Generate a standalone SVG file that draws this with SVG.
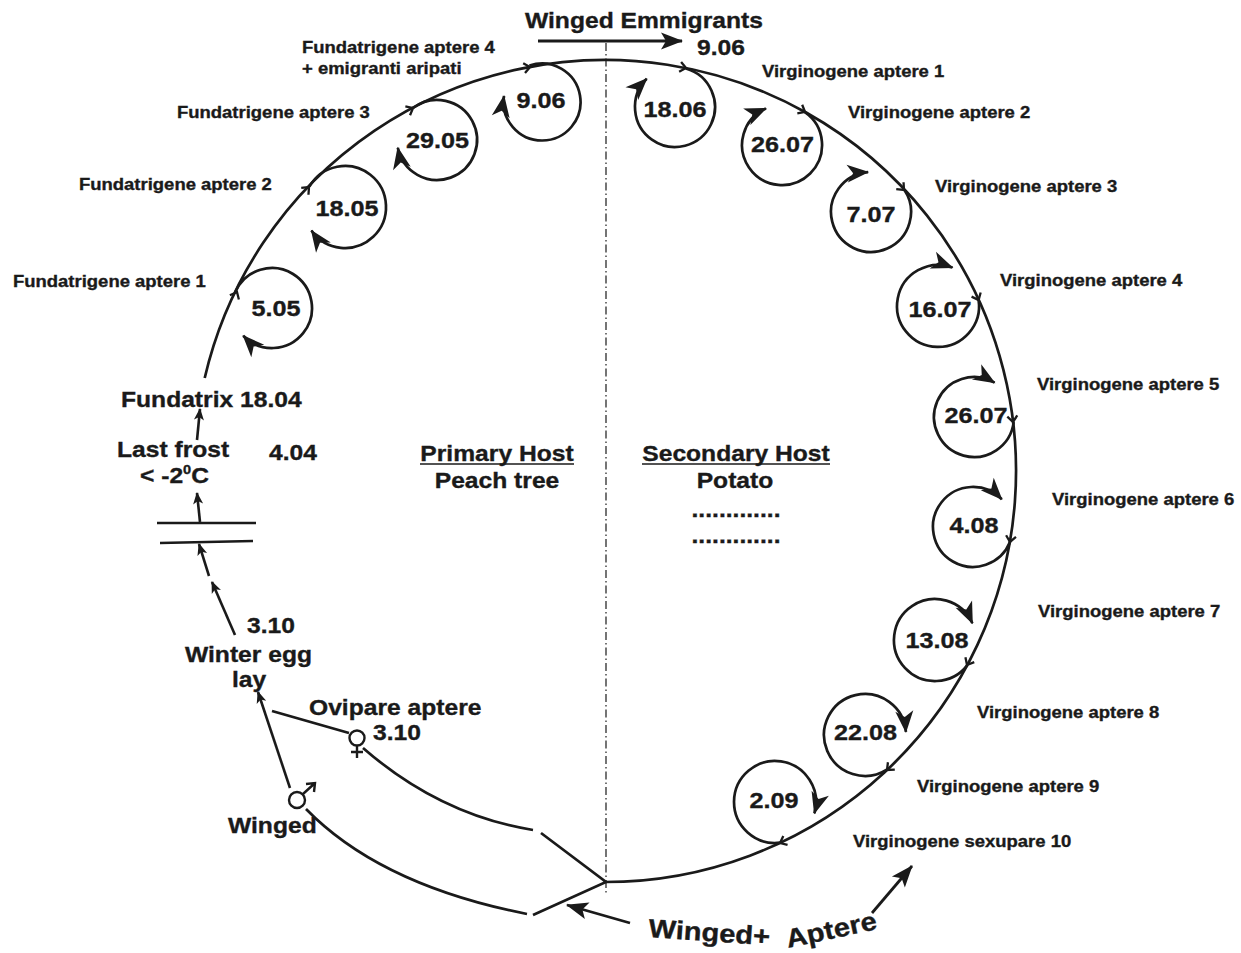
<svg xmlns="http://www.w3.org/2000/svg" xmlns:xlink="http://www.w3.org/1999/xlink" width="1241" height="953" viewBox="0 0 1241 953">
<style>
text{font-family:"Liberation Sans",Arial,sans-serif;font-weight:bold;fill:#1a1a1a;stroke:#1a1a1a;stroke-width:0.35}
.s{font-size:16.5px}
.b{font-size:22px}
.n{font-size:22.5px;text-anchor:middle}
.w{font-size:26px}
.m{text-anchor:middle}
.ln{fill:none;stroke:#1a1a1a;stroke-width:2.7}
.lp{fill:none;stroke:#1a1a1a;stroke-width:2.7;marker-end:url(#ah)}
.ch{fill:none;stroke:#1a1a1a;stroke-width:2.6;marker-end:url(#as)}
.bg{fill:none;stroke:#1a1a1a;stroke-width:2.8;marker-end:url(#ab)}
.tk{fill:none;stroke:#1a1a1a;stroke-width:2.3}
.ul{stroke:#1a1a1a;stroke-width:1.6}
</style>
<defs>
<marker id="ah" viewBox="-24 -11 26 22" refX="0" refY="0" markerWidth="26" markerHeight="22" markerUnits="userSpaceOnUse" orient="auto"><path d="M1,0 L-21,-9 L-15,0 L-21,9 Z" fill="#1a1a1a"/></marker>
<marker id="ab" viewBox="-24 -10 26 20" refX="0" refY="0" markerWidth="26" markerHeight="20" markerUnits="userSpaceOnUse" orient="auto"><path d="M1,0 L-21,-8.5 L-16,0 L-21,8.5 Z" fill="#1a1a1a"/></marker>
<marker id="as" viewBox="-13 -7 15 14" refX="0" refY="0" markerWidth="15" markerHeight="14" markerUnits="userSpaceOnUse" orient="auto"><path d="M1,0 L-11,-5 L-8,0 L-11,5 Z" fill="#1a1a1a"/></marker>
<path id="tk" d="M-6,-5 L0,0 L-6,5" class="tk"/>
</defs>
<rect width="1241" height="953" fill="#ffffff"/>

<g id="connectors">
<line x1="606" y1="43" x2="606" y2="893" stroke="#1a1a1a" stroke-width="1.2" stroke-dasharray="8 3 1.5 3"/>
<path class="ln" d="M204.7,378 A411,411 0 1 1 605,882"/>
<use xlink:href="#tk" transform="translate(237 292) rotate(-64.1)"/>
<use xlink:href="#tk" transform="translate(309 187) rotate(-46.2)"/>
<use xlink:href="#tk" transform="translate(413 108) rotate(-27.9)"/>
<use xlink:href="#tk" transform="translate(530 67) rotate(-10.5)"/>
<use xlink:href="#tk" transform="translate(686 68) rotate(11.4)"/>
<use xlink:href="#tk" transform="translate(805 112) rotate(29.1)"/>
<use xlink:href="#tk" transform="translate(904 190) rotate(46.8)"/>
<use xlink:href="#tk" transform="translate(978.6 300) rotate(65.4)"/>
<use xlink:href="#tk" transform="translate(1013 422) rotate(83.2)"/>
<use xlink:href="#tk" transform="translate(1010 542) rotate(99.9)"/>
<use xlink:href="#tk" transform="translate(967 665) rotate(118.2)"/>
<use xlink:href="#tk" transform="translate(887 770) rotate(136.7)"/>
<use xlink:href="#tk" transform="translate(780 843) rotate(154.8)"/>
<path class="bg" d="M538,41 L682,41"/>
<path class="ln" d="M363,748 Q440,815 533,830"/>
<path class="ln" d="M541,833 L606,882 L533,915"/>
<path class="ln" d="M306,809 Q380,885 527,914"/>
<path class="ln" d="M349,733 L272,711"/>
<path class="ch" d="M290,788 L258,692"/>
<path class="ch" d="M235,635 L212,582"/>
<path class="ch" d="M209,576 L199,544"/>
<path class="ch" d="M200,522 L197,493"/>
<path class="ch" d="M197,440 L200,409"/>
<path class="ln" d="M157,523 L256,523 M160,543 L253,541"/>
<path class="bg" d="M630,923 L567,905"/>
<path class="bg" d="M872,913 L912,866"/>
</g>

<g id="loop-5-05"><path class="lp" d="M235.6,291.4 A40,40 0 1 1 243.2,335.8"/><text class="n" transform="translate(276 316) scale(1.12 1)">5.05</text></g>
<g id="loop-18-05"><path class="lp" d="M309.4,186.7 A41,41 0 1 1 311.4,230.5"/><text class="n" transform="translate(347 216) scale(1.12 1)">18.05</text></g>
<g id="loop-29-05"><path class="lp" d="M413,108 A40,40 0 1 1 397.8,147.8"/><text class="n" transform="translate(437.5 148) scale(1.12 1)">29.05</text></g>
<g id="loop-9-06"><path class="lp" d="M529.5,65.6 A38.5,38.5 0 1 1 504,96"/><text class="n" transform="translate(541 108) scale(1.12 1)">9.06</text></g>
<g id="loop-18-06"><path class="lp" d="M685.9,68.5 A40,40 0 1 1 646.7,78.7"/><text class="n" transform="translate(675 117) scale(1.12 1)">18.06</text></g>
<g id="loop-26-07a"><path class="lp" d="M804.9,112.2 A40,40 0 1 1 766,108.4"/><text class="n" transform="translate(782.5 152) scale(1.12 1)">26.07</text></g>
<g id="loop-7-07"><path class="lp" d="M904.3,189.8 A40,40 0 1 1 868.1,172.1"/><text class="n" transform="translate(871 222) scale(1.12 1)">7.07</text></g>
<g id="loop-16-07"><path class="lp" d="M978.6,300 A41,41 0 1 1 952.5,267.6"/><text class="n" transform="translate(940 317) scale(1.12 1)">16.07</text></g>
<g id="loop-26-07b"><path class="lp" d="M1013.7,422.1 A40,40 0 1 1 994.6,382.7"/><text class="n" transform="translate(976 423) scale(1.12 1)">26.07</text></g>
<g id="loop-4-08"><path class="lp" d="M1010,542.1 A40,40 0 1 1 1001.8,499.2"/><text class="n" transform="translate(974 533) scale(1.12 1)">4.08</text></g>
<g id="loop-13-08"><path class="lp" d="M967.4,665.1 A41,41 0 1 1 972.4,623.3"/><text class="n" transform="translate(937 648) scale(1.12 1)">13.08</text></g>
<g id="loop-22-08"><path class="lp" d="M886.8,769.7 A41,41 0 1 1 905.9,731.9"/><text class="n" transform="translate(865.5 740) scale(1.12 1)">22.08</text></g>
<g id="loop-2-09"><path class="lp" d="M780,842.7 A41,41 0 1 1 814.4,813.4"/><text class="n" transform="translate(774 808) scale(1.12 1)">2.09</text></g>

<g id="label-fa4"><text class="s" transform="translate(302 53) scale(1.12 1)">Fundatrigene aptere 4</text><text class="s" transform="translate(302 74) scale(1.12 1)">+ emigranti aripati</text></g>
<g id="label-fa3"><text class="s" transform="translate(177 118) scale(1.12 1)">Fundatrigene aptere 3</text></g>
<g id="label-fa2"><text class="s" transform="translate(79 190) scale(1.12 1)">Fundatrigene aptere 2</text></g>
<g id="label-fa1"><text class="s" transform="translate(13 287) scale(1.12 1)">Fundatrigene aptere 1</text></g>
<g id="label-va1"><text class="s" transform="translate(762 77) scale(1.12 1)">Virginogene aptere 1</text></g>
<g id="label-va2"><text class="s" transform="translate(848 118) scale(1.12 1)">Virginogene aptere 2</text></g>
<g id="label-va3"><text class="s" transform="translate(935 192) scale(1.12 1)">Virginogene aptere 3</text></g>
<g id="label-va4"><text class="s" transform="translate(1000 286) scale(1.12 1)">Virginogene aptere 4</text></g>
<g id="label-va5"><text class="s" transform="translate(1037 390) scale(1.12 1)">Virginogene aptere 5</text></g>
<g id="label-va6"><text class="s" transform="translate(1052 505) scale(1.12 1)">Virginogene aptere 6</text></g>
<g id="label-va7"><text class="s" transform="translate(1038 617) scale(1.12 1)">Virginogene aptere 7</text></g>
<g id="label-va8"><text class="s" transform="translate(977 718) scale(1.12 1)">Virginogene aptere 8</text></g>
<g id="label-va9"><text class="s" transform="translate(917 792) scale(1.12 1)">Virginogene aptere 9</text></g>
<g id="label-vs10"><text class="s" transform="translate(853 847) scale(1.12 1)">Virginogene sexupare 10</text></g>

<g id="emmigrants"><text class="b" transform="translate(525 28) scale(1.12 1)">Winged Emmigrants</text><text class="b" transform="translate(697 55) scale(1.12 1)">9.06</text></g>
<g id="fundatrix"><text class="b" transform="translate(121 407) scale(1.12 1)">Fundatrix 18.04</text></g>
<g id="last-frost"><text class="b" transform="translate(117 457) scale(1.12 1)">Last frost</text><text class="b" transform="translate(140 483) scale(1.12 1)">&lt; -2<tspan font-size="13" dy="-9">0</tspan><tspan dy="9">C</tspan></text><text class="b" transform="translate(269 460) scale(1.12 1)">4.04</text></g>
<g id="winter-egg"><text class="b" transform="translate(247 633) scale(1.12 1)">3.10</text><text class="b" transform="translate(185 662) scale(1.12 1)">Winter egg</text><text class="b" transform="translate(232 687) scale(1.12 1)">lay</text></g>
<g id="ovipare"><text class="b" transform="translate(309 715) scale(1.12 1)">Ovipare aptere</text><text class="b" transform="translate(373 740) scale(1.12 1)">3.10</text>
<circle cx="357" cy="738" r="7.5" fill="none" stroke="#1a1a1a" stroke-width="2.4"/><path d="M357,746 L357,758 M351,752 L363,752" stroke="#1a1a1a" stroke-width="2.4"/></g>
<g id="winged-male"><circle cx="297" cy="800" r="8" fill="none" stroke="#1a1a1a" stroke-width="2.4"/><path d="M303,794 L315,783 M306,784 L315,783 L314,792" fill="none" stroke="#1a1a1a" stroke-width="2.4"/><text class="b" transform="translate(228 833) scale(1.12 1)">Winged</text></g>
<g id="primary-host"><text class="b m" transform="translate(497 461) scale(1.12 1)">Primary Host</text><line class="ul" x1="420" y1="464" x2="574" y2="464"/><text class="b m" transform="translate(497 488) scale(1.12 1)">Peach tree</text></g>
<g id="secondary-host"><text class="b m" transform="translate(736 461) scale(1.12 1)">Secondary Host</text><line class="ul" x1="642" y1="464" x2="830" y2="464"/><text class="b m" transform="translate(735 488) scale(1.12 1)">Potato</text><text class="b m" transform="translate(736 517) scale(1.12 1)">.............</text><text class="b m" transform="translate(736 543) scale(1.12 1)">.............</text></g>
<g id="winged-aptere"><text class="w" transform="translate(648 937) rotate(4) scale(1.12 1)">Winged+</text><text class="w" transform="translate(788 948) rotate(-12) scale(1.12 1)">Aptere</text></g>
</svg>
